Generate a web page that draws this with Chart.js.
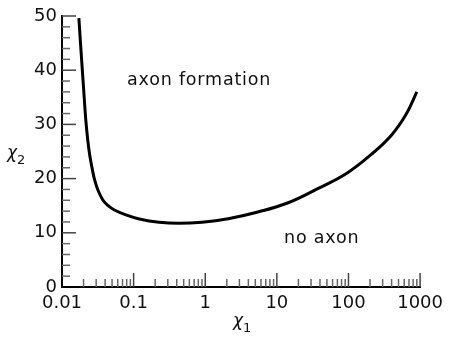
<!DOCTYPE html>
<html>
<head>
<meta charset="utf-8">
<script src="https://cdn.jsdelivr.net/npm/chart.js@4/dist/chart.umd.min.js"></script>
<style>
  html, body { margin: 0; padding: 0; background: #fff; }
  #chart { display: block; }
</style>
</head>
<body>
<canvas id="chart" width="449" height="340"></canvas>
<script>
// boundary curve between the two regions
const chiOne = [0.0172, 0.0186, 0.0201, 0.0215, 0.0229, 0.0244, 0.0266, 0.0286, 0.0317, 0.0372, 0.0432,
                0.054, 0.078, 0.12, 0.226, 0.426, 0.9, 2.09, 5.43, 14.1, 36.6, 95, 210, 398, 641, 900];
const chiTwo = [49.6, 42.8, 36.3, 30.8, 27.1, 24.3, 21.6, 19.7, 17.9, 16.05, 15.1,
                14.2, 13.3, 12.55, 11.95, 11.75, 11.95, 12.6, 13.85, 15.5, 18.1, 21.0, 24.5, 28.0, 31.9, 36.0];

const xDecades = [0.01, 0.1, 1, 10, 100, 1000];
const xDecadeLabels = ['0.01', '0.1', '1', '10', '100', '1000'];
const yMajor = [0, 10, 20, 30, 40, 50];
const yMinor = [2, 4, 6, 8, 12, 14, 16, 18, 22, 24, 26, 28, 32, 34, 36, 38, 42, 44, 46, 48];

const regionNotes = [
  { text: 'axon formation', x: 0.82, y: 37.3 },
  { text: 'no axon', x: 42.3, y: 8.06 }
];

const FONT = '"DejaVu Sans", Verdana, sans-serif';

// minor ticks at 2..9 within each decade
const xMinor = [];
for (let d = 0; d < xDecades.length - 1; d++) {
  for (let m = 2; m <= 9; m++) xMinor.push(+(xDecades[d] * m).toPrecision(3));
}

// tick marks point inward, into the plot
const inwardTicks = {
  id: 'inwardTicks',
  beforeDatasetsDraw(chart) {
    const { ctx, scales: { x, y }, chartArea: a } = chart;
    ctx.save();
    ctx.lineWidth = 1.5;
    const mark = (x0, y0, x1, y1, c) => {
      ctx.strokeStyle = c;
      ctx.beginPath(); ctx.moveTo(x0, y0); ctx.lineTo(x1, y1); ctx.stroke();
    };
    xMinor.forEach(v => { const p = x.getPixelForValue(v); mark(p, a.bottom, p, a.bottom - 8, '#666'); });
    xDecades.slice(1).forEach(v => { const p = x.getPixelForValue(v); mark(p, a.bottom, p, a.bottom - 14, '#444'); });
    yMinor.forEach(v => { const p = y.getPixelForValue(v); mark(a.left, p, a.left + 8, p, '#666'); });
    yMajor.slice(1).forEach(v => { const p = y.getPixelForValue(v); mark(a.left, p, a.left + 14, p, '#444'); });
    ctx.restore();
  }
};

// region notes and the chi axis titles with subscripts
const labels = {
  id: 'labels',
  afterDraw(chart) {
    const { ctx, scales: { x, y } } = chart;
    ctx.save();
    ctx.fillStyle = '#111';
    ctx.textBaseline = 'alphabetic';
    ctx.textAlign = 'center';
    ctx.font = '17.5px ' + FONT;
    ctx.letterSpacing = '0.8px';
    regionNotes.forEach(n => ctx.fillText(n.text, x.getPixelForValue(n.x), y.getPixelForValue(n.y)));
    ctx.letterSpacing = '0px';
    ctx.textAlign = 'left';
    const chi = (px, py, sub) => {
      ctx.font = 'italic 17px ' + FONT;
      ctx.fillText('\u03C7', px, py);
      const w = ctx.measureText('\u03C7').width;
      ctx.font = '13px ' + FONT;
      ctx.fillText(sub, px + w, py + 6);
    };
    chi(233, 326, '1');
    chi(7, 158, '2');
    ctx.restore();
  }
};

new Chart(document.getElementById('chart'), {
  type: 'line',
  data: {
    datasets: [{
      data: chiOne.map((v, i) => ({ x: v, y: chiTwo[i] })),
      borderColor: '#000',
      borderWidth: 3,
      pointRadius: 0,
      tension: 0.4,
      fill: false
    }]
  },
  options: {
    responsive: false,
    animation: false,
    layout: { padding: { top: 16, right: 25, left: 0, bottom: 0 } },
    plugins: { legend: { display: false }, tooltip: { enabled: false } },
    scales: {
      x: {
        type: 'logarithmic',
        min: 0.01,
        max: 1000,
        grid: { display: false, drawTicks: false },
        border: { display: true, color: '#000', width: 2 },
        afterBuildTicks(s) { s.ticks = xDecades.map(v => ({ value: v })); },
        afterFit(s) { s.height = 53; },
        ticks: {
          autoSkip: false,
          maxRotation: 0,
          padding: 6,
          color: '#111',
          font: { family: FONT, size: 18 },
          callback: (v) => xDecadeLabels[xDecades.indexOf(v)] ?? ''
        }
      },
      y: {
        min: 0,
        max: 50,
        grid: { display: false, drawTicks: false },
        border: { display: true, color: '#000', width: 2 },
        afterBuildTicks(s) { s.ticks = yMajor.map(v => ({ value: v })); },
        afterFit(s) { s.width = 62; },
        ticks: {
          padding: 5,
          color: '#111',
          font: { family: FONT, size: 18 }
        }
      }
    }
  },
  plugins: [inwardTicks, labels]
});
</script>
</body>
</html>
